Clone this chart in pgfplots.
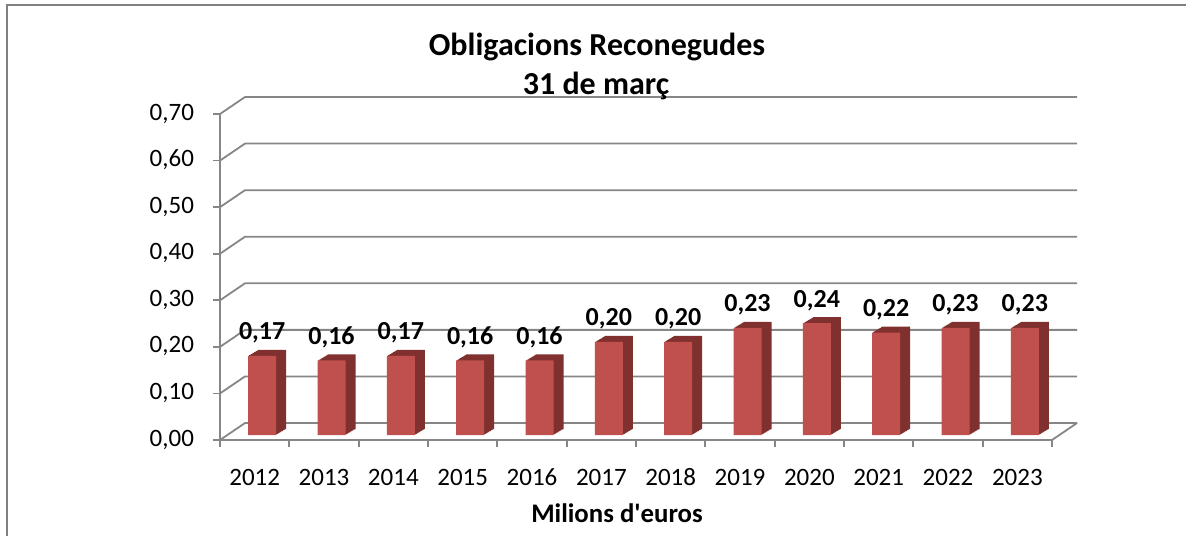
\documentclass[border=0pt]{standalone}
\usepackage{fontspec}
\setmainfont{Carlito}[Ligatures=TeXOff]
\usepackage{pgfplots}
\usepackage{pgfplotstable}
\pgfplotsset{compat=1.18}
\definecolor{barfront}{RGB}{192,80,77}
\definecolor{barside}{RGB}{128,48,46}
\definecolor{gridgray}{RGB}{134,134,134}
\definecolor{framegray}{RGB}{128,128,128}

\pgfplotstableread{
x y
0 0.17
1 0.16
2 0.17
3 0.16
4 0.16
5 0.20
6 0.20
7 0.23
8 0.24
9 0.22
10 0.23
11 0.23
}\datatable

\begin{document}
\begin{tikzpicture}
\useasboundingbox (0,0) rectangle (593pt,-268pt);
\draw[framegray, line width=1pt] (3.5pt,-268pt) -- (3.5pt,-2.5pt) -- (593pt,-2.5pt);
\begin{axis}[
  at={(110pt,-220pt)}, anchor=south west,
  scale only axis, width=416pt, height=163pt,
  xmin=-0.5, xmax=11.5, ymin=0, ymax=0.7,
  axis lines*=left,
  axis line style={gridgray, line width=0.9pt},
  tick align=outside,
  xtick={0,...,11},
  xticklabels={2012,2013,2014,2015,2016,2017,2018,2019,2020,2021,2022,2023},
  typeset ticklabels with strut,
  major x tick style={draw=none},
  minor xtick={-0.5,0.5,...,11.5},
  minor tick length=3.5pt,
  major tick length=3.5pt,
  minor x tick style={gridgray, line width=0.9pt},
  major y tick style={gridgray, line width=0.9pt},
  ytick={0,0.1,0.2,0.3,0.4,0.5,0.6,0.7},
  yticklabel style={/pgf/number format/fixed, /pgf/number format/fixed zerofill, /pgf/number format/precision=2, /pgf/number format/use comma, xshift=-6pt},
  /pgf/number format/assume math mode=true,
  tick label style={font=\fontsize{12.5}{15}\selectfont, text=black},
  xticklabel style={yshift=-5pt},
  ybar, bar width=14pt,
  clip=false,
]
\pgfplotsinvokeforeach{0,0.1,0.2,0.3,0.4,0.5,0.6,0.7}{
  \draw[gridgray, line width=0.9pt] (axis cs:-0.5,#1) -- ++(12.5pt,8.5pt) -- ([shift={(12.5pt,8.5pt)}]axis cs:11.5,#1);
}
\draw[gridgray, line width=0.9pt] (axis cs:11.5,0) -- ++(12.5pt,8.5pt);
\pgfplotsinvokeforeach{10,9,...,1}{
  \addplot[fill=barside, draw=none, bar shift={3.75pt+#1*0.5pt}, yshift={2.5pt+#1*0.3pt}] table[x=x,y=y]{\datatable};
}
\addplot[fill=barfront, draw=none, bar shift=3.75pt, yshift=2.5pt,
  nodes near coords={\pgfmathprintnumber[fixed,fixed zerofill,precision=2,use comma,assume math mode=true]{\pgfplotspointmeta}},
  every node near coord/.append style={font=\bfseries\fontsize{13}{15}\selectfont, anchor=base, inner sep=0pt, yshift=8pt, text=black}
] table[x=x,y=y]{\datatable};
\end{axis}
\node[anchor=base, font=\bfseries\fontsize{16}{18}\selectfont] at (298.5pt,-27.5pt) {Obligacions Reconegudes};
\node[anchor=base, font=\bfseries\fontsize{16}{18}\selectfont] at (298pt,-47pt) {31 de març};
\node[anchor=base, font=\bfseries\fontsize{13.4}{15}\selectfont] at (308.5pt,-261pt) {Milions d'euros};
\end{tikzpicture}
\end{document}
